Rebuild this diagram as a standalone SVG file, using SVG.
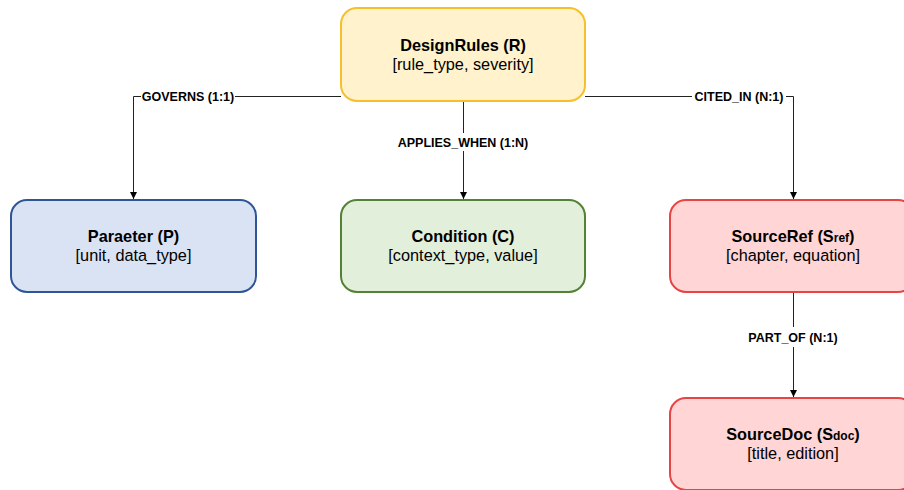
<svg xmlns="http://www.w3.org/2000/svg" width="904" height="490" viewBox="0 0 904 490">
  <defs>
    <marker id="arrow" viewBox="0 0 10 10" refX="10" refY="5" markerWidth="7" markerHeight="7" orient="auto" markerUnits="userSpaceOnUse">
      <path d="M0,0 L10,5 L0,10 z" fill="#000"/>
    </marker>
    <style>
      .node rect { stroke-width: 2; }
      .title { font-family: "Liberation Sans", Arial, sans-serif; font-size: 16.3px; font-weight: bold; fill: #000; text-anchor: middle; }
      .sub { font-family: "Liberation Sans", Arial, sans-serif; font-size: 16.3px; fill: #000; text-anchor: middle; }
      .small { font-size: 12px; }
      .edge { fill: none; stroke: #222; stroke-width: 1; }
      .lbl { font-family: "Liberation Sans", Arial, sans-serif; font-size: 12.5px; font-weight: bold; fill: #000; text-anchor: middle; }
      .lblbg { fill: #fff; }
    </style>
  </defs>
  <rect width="904" height="490" fill="#fff"/>

  <g id="connectors">
    <path class="edge" d="M341,96.5 H133.5 V199" marker-end="url(#arrow)"/>
    <path class="edge" d="M463.5,101 V199" marker-end="url(#arrow)"/>
    <path class="edge" d="M585,96.5 H793.5 V199" marker-end="url(#arrow)"/>
    <path class="edge" d="M793.5,292 V397" marker-end="url(#arrow)"/>
    <rect class="lblbg" x="141" y="89" width="94" height="15"/>
    <text class="lbl" x="188" y="101">GOVERNS (1:1)</text>
    <rect class="lblbg" x="395" y="133" width="136" height="18"/>
    <text class="lbl" x="463" y="146.5">APPLIES_WHEN (1:N)</text>
    <rect class="lblbg" x="692" y="89" width="94" height="15"/>
    <text class="lbl" x="739" y="101">CITED_IN (N:1)</text>
    <rect class="lblbg" x="744" y="327" width="98" height="20"/>
    <text class="lbl" x="793" y="341.5">PART_OF (N:1)</text>
  </g>

  <g id="node-designrules" class="node">
    <rect x="341" y="8" width="244" height="93" rx="16" fill="#fff2cc" stroke="#f5c02a"/>
    <text class="title" x="463" y="51">DesignRules (R)</text>
    <text class="sub" x="463" y="70">[rule_type, severity]</text>
  </g>

  <g id="node-parameter" class="node">
    <rect x="11" y="200" width="245" height="92" rx="16" fill="#dae3f3" stroke="#2f5597"/>
    <text class="title" x="133.5" y="242">Paraeter (P)</text>
    <text class="sub" x="133.5" y="261">[unit, data_type]</text>
  </g>

  <g id="node-condition" class="node">
    <rect x="341" y="200" width="244" height="92" rx="16" fill="#e2efda" stroke="#548235"/>
    <text class="title" x="463" y="242">Condition (C)</text>
    <text class="sub" x="463" y="261">[context_type, value]</text>
  </g>

  <g id="node-sourceref" class="node">
    <rect x="670" y="200" width="244" height="92" rx="16" fill="#ffd5d5" stroke="#e84444"/>
    <text class="title" x="793" y="242">SourceRef (S<tspan class="small">ref</tspan>)</text>
    <text class="sub" x="793" y="261">[chapter, equation]</text>
  </g>

  <g id="node-sourcedoc" class="node">
    <rect x="670" y="398" width="244" height="92" rx="16" fill="#ffd5d5" stroke="#e84444"/>
    <text class="title" x="793" y="440">SourceDoc (S<tspan class="small">doc</tspan>)</text>
    <text class="sub" x="793" y="459">[title, edition]</text>
  </g>
</svg>
